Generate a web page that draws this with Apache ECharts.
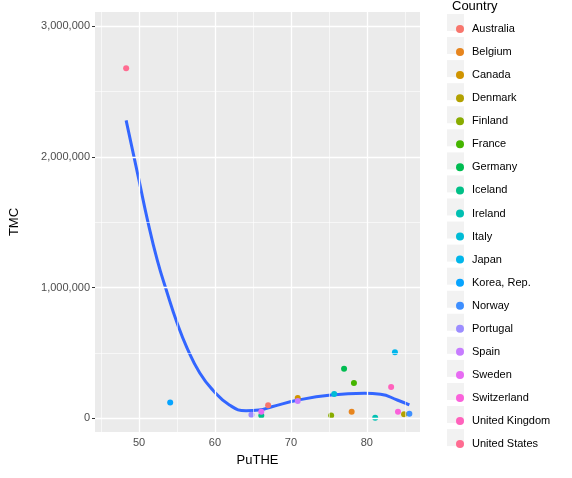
<!DOCTYPE html>
<html><head><meta charset="utf-8">
<script src="https://cdn.jsdelivr.net/npm/echarts@6/dist/echarts.min.js"></script>
<style>html,body{margin:0;padding:0;background:#fff}#c{width:572px;height:478px}</style>
</head><body><div id="c"></div>
<script>
const countries = ['Australia', 'Belgium', 'Canada', 'Denmark', 'Finland', 'France', 'Germany', 'Iceland', 'Ireland', 'Italy', 'Japan', 'Korea, Rep.', 'Norway', 'Portugal', 'Spain', 'Sweden', 'Switzerland', 'United Kingdom', 'United States']
const colors = ['#F8766D', '#E7851E', '#D09400', '#B2A100', '#89AC00', '#45B500', '#00BC51', '#00C087', '#00C0B2', '#00BCD6', '#00B6EB', '#06A4FF', '#3E8FFF', '#9C8DFF', '#C77CFF', '#E76BF3', '#FA62DB', '#FF62BC', '#FF6C91']
const puthe = [67.0, 78.0, 70.9, 84.9, 75.3, 78.3, 77.0, 66.1, 81.1, 75.7, 83.7, 54.1, 85.6, 64.8, 70.9, 66.1, 84.1, 83.2, 48.3]
const tmc = [97000, 48000, 153000, 28000, 20000, 268000, 378000, 20000, 2000, 184000, 503000, 118000, 33000, 25000, 130000, 48000, 48000, 238000, 2680000]
// smoothed fit
const fitX = [48.3, 50, 51.1, 52.4, 53.7, 55.0, 56.3, 58.0, 59.7, 61.9, 64.1, 65.8, 67.5, 71.0, 75.3, 79.7, 81.8, 84.0, 85.6]
const fitY = [2280000, 1820000, 1520000, 1210000, 960000, 730000, 540000, 345000, 215000, 100000, 56000, 61000, 87000, 138000, 176000, 189000, 182000, 138000, 100000]
const xMajor = [50, 60, 70, 80]
const xMinor = [45, 55, 65, 75, 85]
const yMajor = [0, 1000000, 2000000, 3000000]
const yMinor = [500000, 1500000, 2500000]

const chart = echarts.init(document.getElementById('c'))
const font = 'Liberation Sans'
const grid = (arr, key, w) => arr.map(v => ({ [key]: v, lineStyle: { color: '#fff', width: w, type: 'solid' } }))

const series = countries.map((c, i) => ({
  name: c,
  type: 'scatter',
  symbolSize: 6,
  clip: false,
  itemStyle: { color: colors[i], opacity: 1 },
  data: [[puthe[i], tmc[i]]],
  z: 3
}))
series.unshift({
  type: 'line',
  data: [],
  silent: true,
  z: 1,
  markLine: {
    symbol: 'none', silent: true, label: { show: false },
    data: [].concat(grid(xMinor, 'xAxis', 0.6), grid(yMinor, 'yAxis', 0.6), grid(xMajor, 'xAxis', 1.3), grid(yMajor, 'yAxis', 1.3))
  }
})
series.push({
  type: 'line',
  data: fitX.map((x, i) => [x, fitY[i]]),
  smooth: true,
  showSymbol: false,
  lineStyle: { color: '#3366FF', width: 3 },
  z: 2
})

const keyBoxes = countries.map((c, i) => ({
  type: 'rect', left: 447, top: 14 + i * 23.06,
  shape: { width: 17, height: 17 }, style: { fill: '#F2F2F2' }, z: -1
}))

chart.setOption({
  animation: false,
  color: colors,
  grid: { left: 90, right: 152, top: 12, bottom: 46, show: true, backgroundColor: '#EBEBEB', borderWidth: 0 },
  title: { text: 'Country', left: 447, top: -5, textStyle: { fontFamily: font, fontSize: 13, fontWeight: 'normal', color: '#000' } },
  legend: {
    orient: 'vertical', left: 451, top: 17, icon: 'circle',
    itemWidth: 10, itemHeight: 8, itemGap: 9.06,
    data: countries,
    itemStyle: { opacity: 1 },
    textStyle: { fontFamily: font, fontSize: 11, color: '#000', padding: [0, 0, 0, 2], lineHeight: 14 }
  },
  graphic: keyBoxes,
  xAxis: {
    type: 'value', min: 44.2, max: 87,
    name: 'PuTHE', nameLocation: 'middle', nameGap: 22,
    nameTextStyle: { fontFamily: font, fontSize: 13, color: '#000' },
    splitLine: { show: false },
    axisLine: { show: false },
    axisTick: { show: true, length: 3, lineStyle: { color: '#333' }, customValues: xMajor },
    axisLabel: { fontFamily: font, fontSize: 11, color: '#4D4D4D', margin: 5, customValues: xMajor }
  },
  yAxis: {
    type: 'value', min: -107000, max: 3110000,
    name: 'TMC', nameLocation: 'middle', nameGap: 74, nameRotate: 90,
    nameTextStyle: { fontFamily: font, fontSize: 13, color: '#000' },
    splitLine: { show: false },
    axisLine: { show: false },
    axisTick: { show: true, length: 3, lineStyle: { color: '#333' }, customValues: yMajor },
    axisLabel: {
      fontFamily: font, fontSize: 11, color: '#4D4D4D', margin: 5, customValues: yMajor,
      formatter: v => v.toLocaleString('en-US')
    }
  },
  series
})
</script></body></html>
